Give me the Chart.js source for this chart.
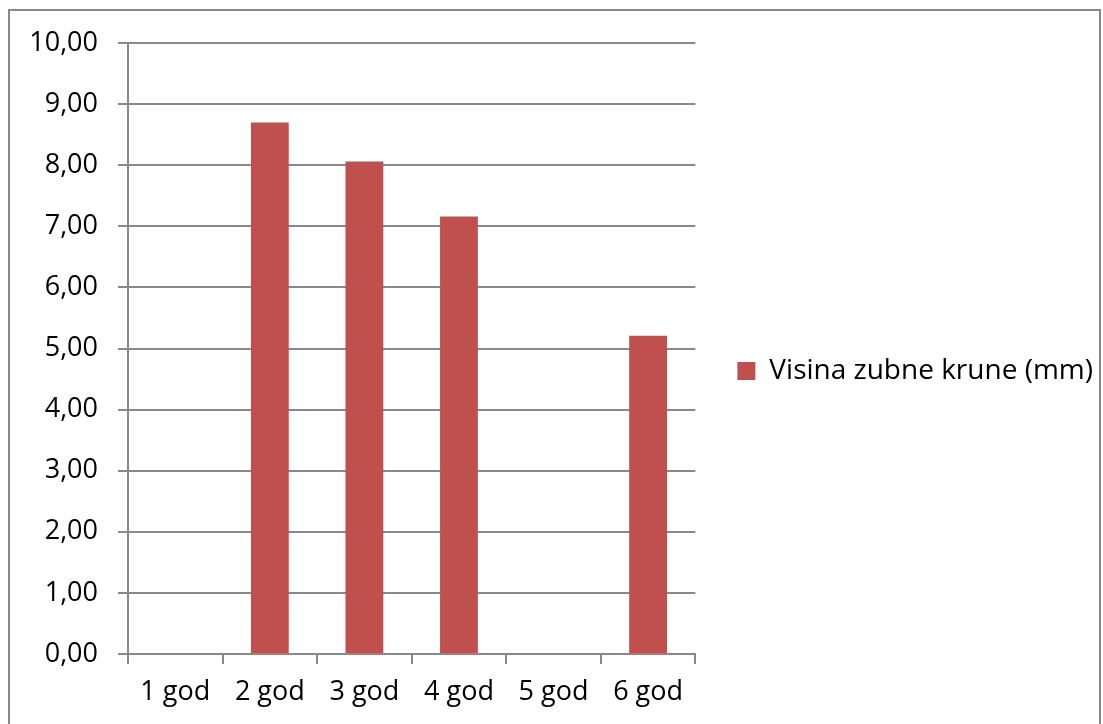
<!DOCTYPE html>
<html>
<head>
<meta charset="utf-8">
<script src="https://cdn.jsdelivr.net/npm/chart.js@4"></script>
<style>
    html, body { margin: 0; padding: 0; background: #fff; overflow: hidden; }
    #frame { position: absolute; left: 8px; top: 9px; width: 1089px; height: 800px; border: 2px solid #898989; }
    #chart { position: absolute; left: 0; top: 0; }
</style>
</head>
<body>
<div id="frame"></div>
<canvas id="chart" width="1103" height="724"></canvas>
<script>
// Chart data
const categories = ['1 god', '2 god', '3 god', '4 god', '5 god', '6 god'];
const crownHeight = [null, 8.70, 8.06, 7.16, null, 5.21];
const seriesLabel = 'Visina zubne krune (mm)';
const yMin = 0;
const yMax = 10;
const yStep = 1;

const gridColor = '#898989';
const barColor = '#C0504D';
const fontFamily = "'Open Sans', sans-serif";

const chart = new Chart(document.getElementById('chart'), {
    type: 'bar',
    data: {
        labels: categories,
        datasets: [{
            label: seriesLabel,
            data: crownHeight,
            backgroundColor: barColor,
            borderWidth: 0,
            barPercentage: 0.4,
            categoryPercentage: 1
        }]
    },
    options: {
        responsive: false,
        animation: false,
        devicePixelRatio: 1,
        layout: {
            padding: { left: 0, top: 18, right: 0, bottom: 0 }
        },
        plugins: {
            tooltip: { enabled: false },
            // empty title only reserves space above the plot
            title: {
                display: true,
                text: '',
                fullSize: false,
                font: { size: 10, lineHeight: 1 },
                padding: { top: 15, bottom: 0 }
            },
            legend: {
                position: 'right',
                maxWidth: 600,
                labels: {
                    boxWidth: 18,
                    boxHeight: 18,
                    padding: 42,
                    color: '#000',
                    font: { family: fontFamily, size: 28 }
                }
            }
        },
        scales: {
            x: {
                offset: true,
                afterFit: scale => { scale.height = 70; },
                grid: {
                    display: true,
                    drawOnChartArea: false,
                    drawTicks: true,
                    tickLength: 10,
                    color: gridColor,
                    lineWidth: 2,
                    offset: true
                },
                border: { display: true, color: gridColor, width: 2 },
                ticks: {
                    color: '#000',
                    padding: 12,
                    font: { family: fontFamily, size: 27 }
                }
            },
            y: {
                min: yMin,
                max: yMax,
                afterFit: scale => { scale.width = 128; },
                grid: {
                    color: gridColor,
                    lineWidth: 2,
                    tickLength: 10
                },
                border: { display: true, color: gridColor, width: 2 },
                ticks: {
                    stepSize: yStep,
                    color: '#000',
                    padding: 20,
                    font: { family: fontFamily, size: 27 },
                    callback: v => v.toFixed(2).replace('.', ',')
                }
            }
        }
    }
});
</script>
</body>
</html>
